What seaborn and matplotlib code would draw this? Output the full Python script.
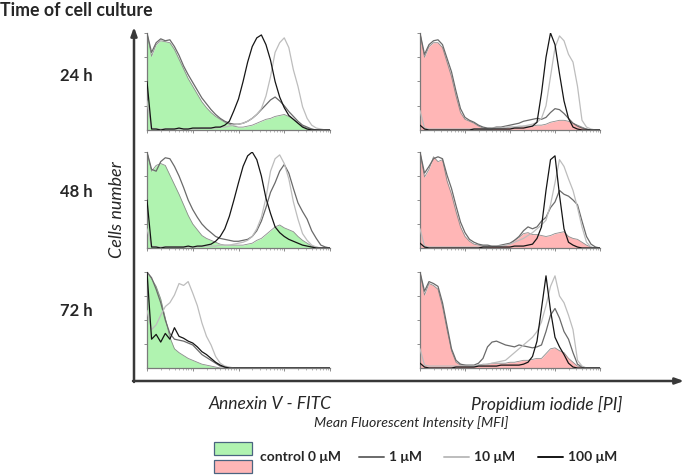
import numpy as np
import pandas as pd
import seaborn as sns
import matplotlib
matplotlib.use('agg')
import matplotlib.pyplot as plt
from matplotlib.ticker import LogLocator, NullFormatter, FixedLocator

sns.set_style("white")
plt.rcParams['font.family'] = ['Lato', 'DejaVu Sans']

# channel grid (log10 decades of fluorescence), one value every 0.1 decade
decades = [round(0.1 * i, 1) for i in range(41)]

# Annexin V - FITC, 24 h
ann24_ctrl = [100, 76, 88, 92, 91, 90, 83, 73, 63, 53, 45, 37, 29, 23, 18, 14, 11, 8, 6, 4, 3,
              3, 4, 5, 7, 9, 11, 12, 14, 15, 16, 14, 11, 7, 4, 2, 1, 0, 0, 0, 0]
ann24_1 = [100, 80, 90, 94, 92, 93, 86, 77, 66, 57, 49, 41, 33, 27, 21, 16, 12, 9, 7, 6, 6,
           7, 9, 12, 16, 21, 26, 31, 34, 30, 25, 19, 14, 9, 5, 3, 1, 0, 0, 0, 0]
ann24_10 = [30, 2, 1, 1, 1, 1, 1, 1, 1, 1, 1, 1, 2, 2, 2, 2, 3, 3, 4, 5, 6,
            7, 9, 12, 16, 22, 35, 55, 80, 90, 95, 85, 62, 45, 24, 12, 5, 2, 1, 0, 0]
ann24_100 = [50, 1, 1, 0, 1, 1, 1, 2, 1, 1, 2, 2, 2, 2, 2, 3, 3, 5, 9, 20, 32,
             50, 70, 86, 95, 98, 88, 72, 50, 34, 23, 15, 11, 7, 3, 1, 0, 0, 0, 0, 0]

# Propidium iodide, 24 h
pi24_ctrl = [100, 75, 86, 90, 90, 85, 70, 55, 35, 18, 11, 9, 7, 4, 2, 1, 1, 2, 2, 2, 3,
             3, 3, 4, 4, 4, 5, 5, 6, 8, 9, 10, 10, 9, 7, 5, 3, 1, 0, 0, 0]
pi24_1 = [100, 78, 88, 92, 93, 88, 74, 60, 40, 22, 13, 10, 8, 5, 3, 2, 2, 3, 3, 4, 5,
          6, 7, 9, 10, 11, 12, 11, 13, 18, 22, 21, 17, 12, 7, 4, 2, 1, 0, 0, 0]
pi24_10 = [20, 2, 1, 1, 1, 1, 1, 1, 1, 1, 1, 1, 1, 1, 1, 1, 2, 2, 2, 3, 3,
           3, 4, 4, 5, 6, 8, 12, 25, 55, 85, 97, 92, 78, 70, 45, 10, 3, 1, 0, 0]
pi24_100 = [5, 1, 0, 0, 0, 0, 0, 0, 0, 0, 0, 0, 1, 1, 1, 1, 1, 1, 1, 1, 1,
            2, 2, 2, 3, 4, 8, 38, 75, 100, 88, 58, 30, 12, 3, 1, 0, 0, 0, 0, 0]

# Annexin V - FITC, 48 h
ann48_ctrl = [100, 80, 86, 88, 86, 76, 66, 56, 45, 34, 25, 19, 13, 10, 8, 6, 4, 3, 3, 3, 3,
              3, 4, 5, 8, 10, 14, 18, 22, 24, 21, 19, 17, 12, 8, 5, 2, 1, 0, 0, 0]
ann48_1 = [100, 82, 80, 90, 94, 93, 85, 75, 63, 50, 40, 32, 25, 20, 16, 12, 10, 9, 8, 7, 7,
           8, 9, 12, 18, 28, 42, 58, 68, 80, 87, 78, 62, 47, 38, 30, 18, 10, 3, 1, 0]
ann48_10 = [20, 2, 1, 1, 1, 1, 1, 1, 1, 1, 1, 1, 2, 2, 2, 2, 3, 3, 3, 4, 5,
            6, 8, 12, 20, 32, 52, 80, 93, 97, 88, 72, 48, 30, 15, 8, 3, 1, 0, 0, 0]
ann48_100 = [50, 1, 1, 0, 1, 1, 1, 1, 1, 2, 1, 2, 2, 3, 4, 7, 12, 20, 33, 50, 68,
             85, 96, 100, 92, 75, 52, 36, 22, 16, 12, 9, 7, 5, 3, 2, 1, 0, 0, 0, 0]

# Propidium iodide, 48 h
pi48_ctrl = [100, 74, 82, 95, 90, 92, 70, 56, 38, 22, 12, 7, 4, 3, 2, 2, 2, 2, 2, 3, 4,
             8, 11, 15, 16, 14, 14, 13, 12, 13, 15, 16, 17, 12, 10, 9, 6, 3, 1, 0, 0]
pi48_1 = [100, 78, 85, 93, 95, 93, 76, 62, 44, 27, 16, 9, 6, 4, 3, 3, 2, 2, 3, 4, 5,
          8, 12, 18, 22, 20, 22, 28, 32, 42, 48, 60, 56, 54, 50, 45, 28, 12, 4, 1, 0]
pi48_10 = [20, 2, 1, 1, 1, 1, 1, 1, 1, 1, 1, 1, 1, 1, 1, 1, 2, 2, 2, 3, 4,
           6, 8, 10, 13, 16, 20, 24, 29, 45, 68, 92, 85, 72, 60, 42, 22, 6, 1, 0, 0]
pi48_100 = [5, 1, 0, 0, 0, 0, 0, 0, 0, 0, 0, 0, 0, 0, 1, 1, 1, 1, 1, 1, 1,
            2, 2, 2, 3, 4, 10, 22, 60, 92, 96, 55, 20, 6, 3, 1, 0, 0, 0, 0, 0]

# Annexin V - FITC, 72 h
ann72_ctrl = [100, 93, 85, 72, 52, 32, 20, 16, 13, 10, 8, 6, 4, 3, 2, 1, 0, 0, 0, 0, 0,
              0, 0, 0, 0, 0, 0, 0, 0, 0, 0, 0, 0, 0, 0, 0, 0, 0, 0, 0, 0]
ann72_1 = [100, 94, 82, 68, 50, 36, 30, 29, 28, 26, 24, 19, 14, 11, 8, 5, 2, 1, 0, 0, 0,
           0, 0, 0, 0, 0, 0, 0, 0, 0, 0, 0, 0, 0, 0, 0, 0, 0, 0, 0, 0]
ann72_10 = [60, 40, 45, 55, 64, 68, 76, 88, 86, 90, 78, 65, 47, 33, 24, 12, 5, 2, 1, 0, 0,
            0, 0, 0, 0, 0, 0, 0, 0, 0, 0, 0, 0, 0, 0, 0, 0, 0, 0, 0, 0]
ann72_100 = [100, 30, 35, 27, 36, 30, 42, 33, 31, 28, 26, 22, 17, 14, 10, 6, 3, 1, 0, 0, 0,
             0, 0, 0, 0, 0, 0, 0, 0, 0, 0, 0, 0, 0, 0, 0, 0, 0, 0, 0, 0]

# Propidium iodide, 72 h
pi72_ctrl = [100, 76, 88, 86, 82, 64, 40, 18, 6, 3, 3, 2, 2, 3, 4, 4, 5, 5, 5, 5, 6,
             6, 7, 8, 8, 9, 10, 10, 15, 20, 21, 18, 16, 10, 6, 2, 1, 0, 0, 0, 0]
pi72_1 = [100, 80, 90, 88, 85, 68, 44, 20, 8, 4, 3, 3, 3, 5, 10, 22, 27, 28, 26, 24, 23,
          22, 24, 23, 22, 21, 22, 24, 38, 55, 62, 52, 38, 30, 16, 4, 1, 0, 0, 0, 0]
pi72_10 = [20, 3, 2, 2, 2, 2, 2, 2, 2, 2, 2, 2, 2, 3, 3, 4, 5, 6, 7, 8, 12,
           16, 20, 24, 28, 32, 38, 48, 65, 85, 96, 75, 68, 55, 40, 8, 2, 0, 0, 0, 0]
pi72_100 = [5, 1, 0, 0, 0, 0, 0, 0, 1, 1, 1, 1, 1, 2, 2, 2, 2, 2, 3, 3, 3,
            3, 3, 4, 6, 12, 28, 62, 96, 60, 32, 22, 14, 5, 1, 0, 0, 0, 0, 0, 0]

row_labels = ['24 h', '48 h', '72 h']
dose_labels = ['1 \u03bcM', '10 \u03bcM', '100 \u03bcM']
dose_colors = ['#6a6a6a', '#bdbdbd', '#151515']
fill_colors = ['#b0f3b0', '#ffb6b6']

panels = [
    [(ann24_ctrl, ann24_1, ann24_10, ann24_100), (pi24_ctrl, pi24_1, pi24_10, pi24_100)],
    [(ann48_ctrl, ann48_1, ann48_10, ann48_100), (pi48_ctrl, pi48_1, pi48_10, pi48_100)],
    [(ann72_ctrl, ann72_1, ann72_10, ann72_100), (pi72_ctrl, pi72_1, pi72_10, pi72_100)],
]

W, H = 685, 475
fig = plt.figure(figsize=(W / 100, H / 100), dpi=100)

# overlay in pixel coordinates for arrows and labels
ov = fig.add_axes([0, 0, 1, 1])
ov.set_xlim(0, W)
ov.set_ylim(H, 0)
ov.axis('off')

col_px = [(147, 330), (420, 600)]
row_px = [(33, 130), (152, 248), (272, 368)]

fluo = [10 ** d for d in decades]
# draw order: 10 uM, 1 uM, 100 uM on top
order = [2, 1, 3]

for r, (top, bot) in enumerate(row_px):
    for c, (left, right) in enumerate(col_px):
        ax = fig.add_axes([left / W, 1 - bot / H, (right - left) / W, (bot - top) / H])
        ctrl = panels[r][c][0]
        ax.fill_between(fluo, ctrl, 0, color=fill_colors[c], lw=0, zorder=1)
        sns.lineplot(x=fluo, y=ctrl, ax=ax, color='#8c8c8c', lw=0.6, zorder=2)
        for k in order:
            sns.lineplot(x=fluo, y=panels[r][c][k], ax=ax, color=dose_colors[k - 1],
                         lw=0.9, zorder=3 + k)
        ax.set_xscale('log')
        ax.set_xlim(1, 10 ** 4)
        ax.set_ylim(0, 100)
        ax.patch.set_alpha(0)
        for s in ['top', 'right']:
            ax.spines[s].set_visible(False)
        for s in ['left', 'bottom']:
            ax.spines[s].set_color('#7a7a7a')
            ax.spines[s].set_linewidth(0.9)
        ax.xaxis.set_major_locator(LogLocator(base=10, numticks=10))
        ax.xaxis.set_minor_locator(LogLocator(base=10, subs=np.arange(2, 10), numticks=50))
        ax.xaxis.set_minor_formatter(NullFormatter())
        ax.set_xticklabels([])
        ax.yaxis.set_major_locator(FixedLocator([25, 50, 75, 100]))
        ax.set_yticklabels([])
        ax.tick_params(axis='both', which='major', direction='out', length=2.5,
                       width=0.6, color='#7a7a7a', bottom=True, left=True)
        ax.tick_params(axis='x', which='minor', direction='out', length=1.5,
                       width=0.5, color='#9a9a9a', bottom=True)
        ax.set_xlabel('')
        ax.set_ylabel('')

# big axis arrows
arrow_kw = dict(arrowstyle='-|>,head_length=0.5,head_width=0.18', color='#383838', lw=1.8,
                shrinkA=0, shrinkB=0)
ov.annotate('', xy=(134, 27), xytext=(134, 382), arrowprops=arrow_kw)
ov.annotate('', xy=(684, 381), xytext=(133, 381), arrowprops=arrow_kw)

ov.text(0, 10, 'Time of cell culture', fontsize=12.8, fontweight='bold', ha='left', va='center')
for lab, yc in zip(row_labels, [76, 192, 311]):
    ov.text(76, yc, lab, fontsize=12, fontweight='bold', ha='center', va='center')
ov.text(117, 210, 'Cells number', fontsize=13, style='italic', rotation=90,
        ha='center', va='center')
ov.text(270, 404, 'Annexin V - FITC', fontsize=12.6, style='italic', ha='center', va='center')
ov.text(547, 404, 'Propidium iodide [PI]', fontsize=12.6, style='italic', ha='center', va='center')
ov.text(411, 423, 'Mean Fluorescent Intensity [MFI]', fontsize=10.2, style='italic',
        ha='center', va='center')

# legend
ov.add_patch(plt.Rectangle((214, 442), 38, 13, facecolor=fill_colors[0], edgecolor='#4a6480', lw=0.9))
ov.add_patch(plt.Rectangle((214, 460), 38, 13, facecolor=fill_colors[1], edgecolor='#4a6480', lw=0.9))
ov.text(260, 457, 'control 0 \u03bcM', fontsize=10, fontweight='bold', ha='left', va='center')
for (x0, x1, xt), lab, col in zip([(359, 384, 389), (444, 469, 474), (538, 563, 568)],
                                  dose_labels, dose_colors):
    ov.plot([x0, x1], [457, 457], color=col, lw=1.4)
    ov.text(xt, 457, lab, fontsize=10, fontweight='bold', ha='left', va='center')

plt.savefig('out.png', dpi=100)
plt.close()
